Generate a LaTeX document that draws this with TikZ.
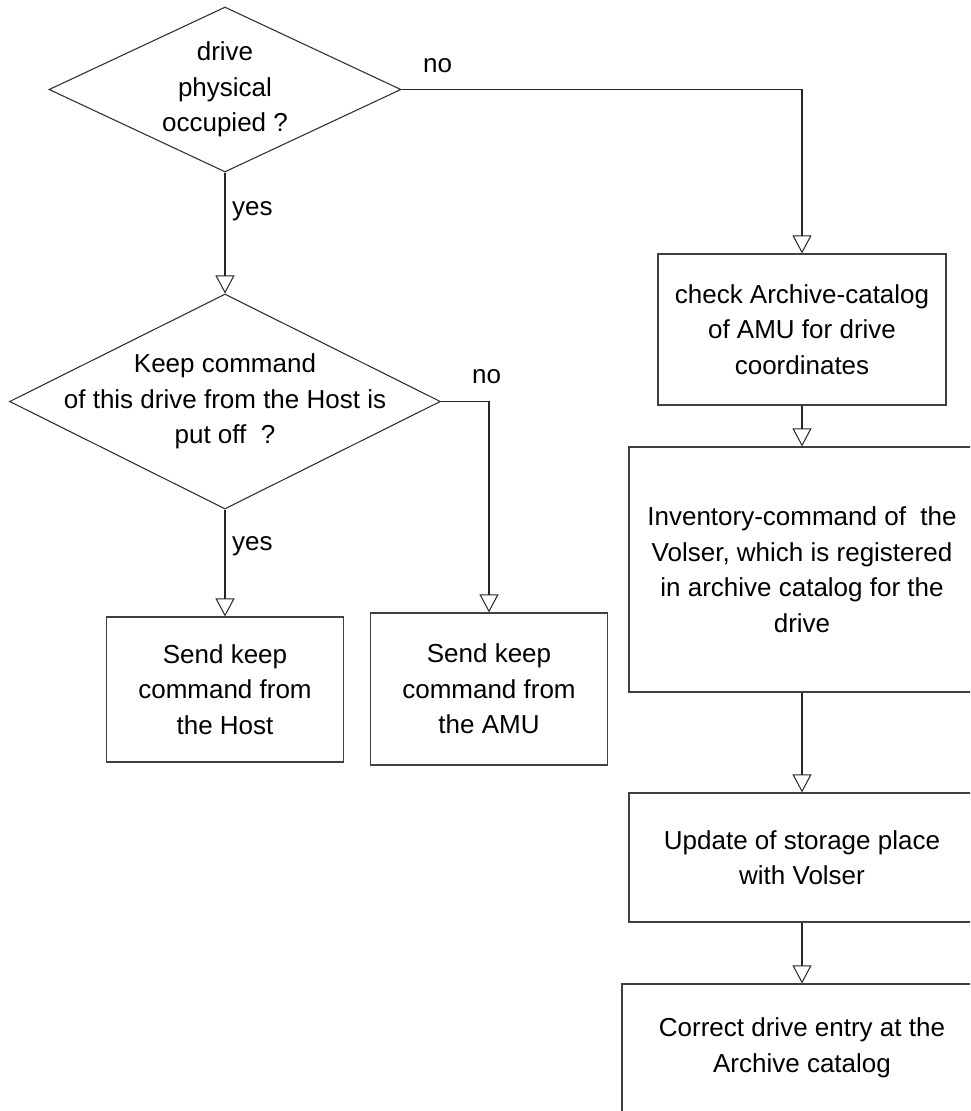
\documentclass[tikz,border=0pt]{standalone}
\usepackage{fontspec}
\setmainfont{Liberation Sans}
\usetikzlibrary{shapes.geometric,arrows.meta}
\tikzset{
  lbl/.style={font=\fontsize{26}{35.5}\selectfont, inner sep=0pt},
  decision/.style={draw=black!80, line width=1.1pt, shape=diamond, inner sep=0pt},
  dtext/.style={lbl, align=center},
  procbox/.style={draw=black!75, line width=1.2pt, rectangle, inner sep=0pt, align=center,
    font=\fontsize{26}{35.5}\selectfont},
  flow/.style={draw=black!85, line width=1.1pt, -{Triangle[open, length=18pt, width=19pt, line width=1pt]}},
}
\begin{document}
\begin{tikzpicture}[x=1pt,y=-1pt]
\useasboundingbox (0,0) rectangle (970,1111);
\clip (0,0) rectangle (970,1111);

% decisions
\node[decision, minimum width=352pt, minimum height=165pt] (d1) at (225,89.5) {};
\node[dtext] (d1t) at (d1.center) {drive\\physical\\occupied ?};
\node[decision, minimum width=431pt, minimum height=215pt] (d2) at (225,401.5) {};
\node[dtext] (d2t) at (d2.center) {Keep command\\of this drive from the Host is\\put off\ \ ?};

% process boxes
\node[procbox, minimum width=288pt, minimum height=151pt] (b1) at (802,329.5)
  {check Archive-catalog\\of AMU for drive\\coordinates};
\node[procbox, minimum width=346pt, minimum height=245pt] (b2) at (802,569.5)
  {Inventory-command of\ \ the\\Volser, which is registered\\in archive catalog for the\\drive};
\node[procbox, minimum width=346pt, minimum height=129pt] (b3) at (802,857.5)
  {Update of storage place\\with Volser};
\node[procbox, minimum width=360pt, minimum height=128pt] (b4) at (802,1048)
  {Correct drive entry at the\\Archive catalog};
\node[procbox, minimum width=237pt, minimum height=145pt] (h1) at (225,689.5)
  {Send keep\\command from\\the Host};
\node[procbox, minimum width=237pt, minimum height=152pt] (h2) at (489,689)
  {Send keep\\command from\\the AMU};

% connectors
\draw[flow] (d1.south) -- (d2.north);
\draw[flow] (d1.east) -| (b1.north);
\draw[flow] (d2.south) -- (h1.north);
\draw[flow] (d2.east) -| (h2.north);
\draw[flow] (b1.south) -- (b2.north);
\draw[flow] (b2.south) -- (b3.north);
\draw[flow] (b3.south) -- (b4.north);

% labels
\node[lbl, anchor=base west] (l1) at (423,72) {no};
\node[lbl, anchor=base west] (l2) at (232,215) {yes};
\node[lbl, anchor=base west] (l3) at (472,383) {no};
\node[lbl, anchor=base west] (l4) at (232,550) {yes};
\end{tikzpicture}
\end{document}
